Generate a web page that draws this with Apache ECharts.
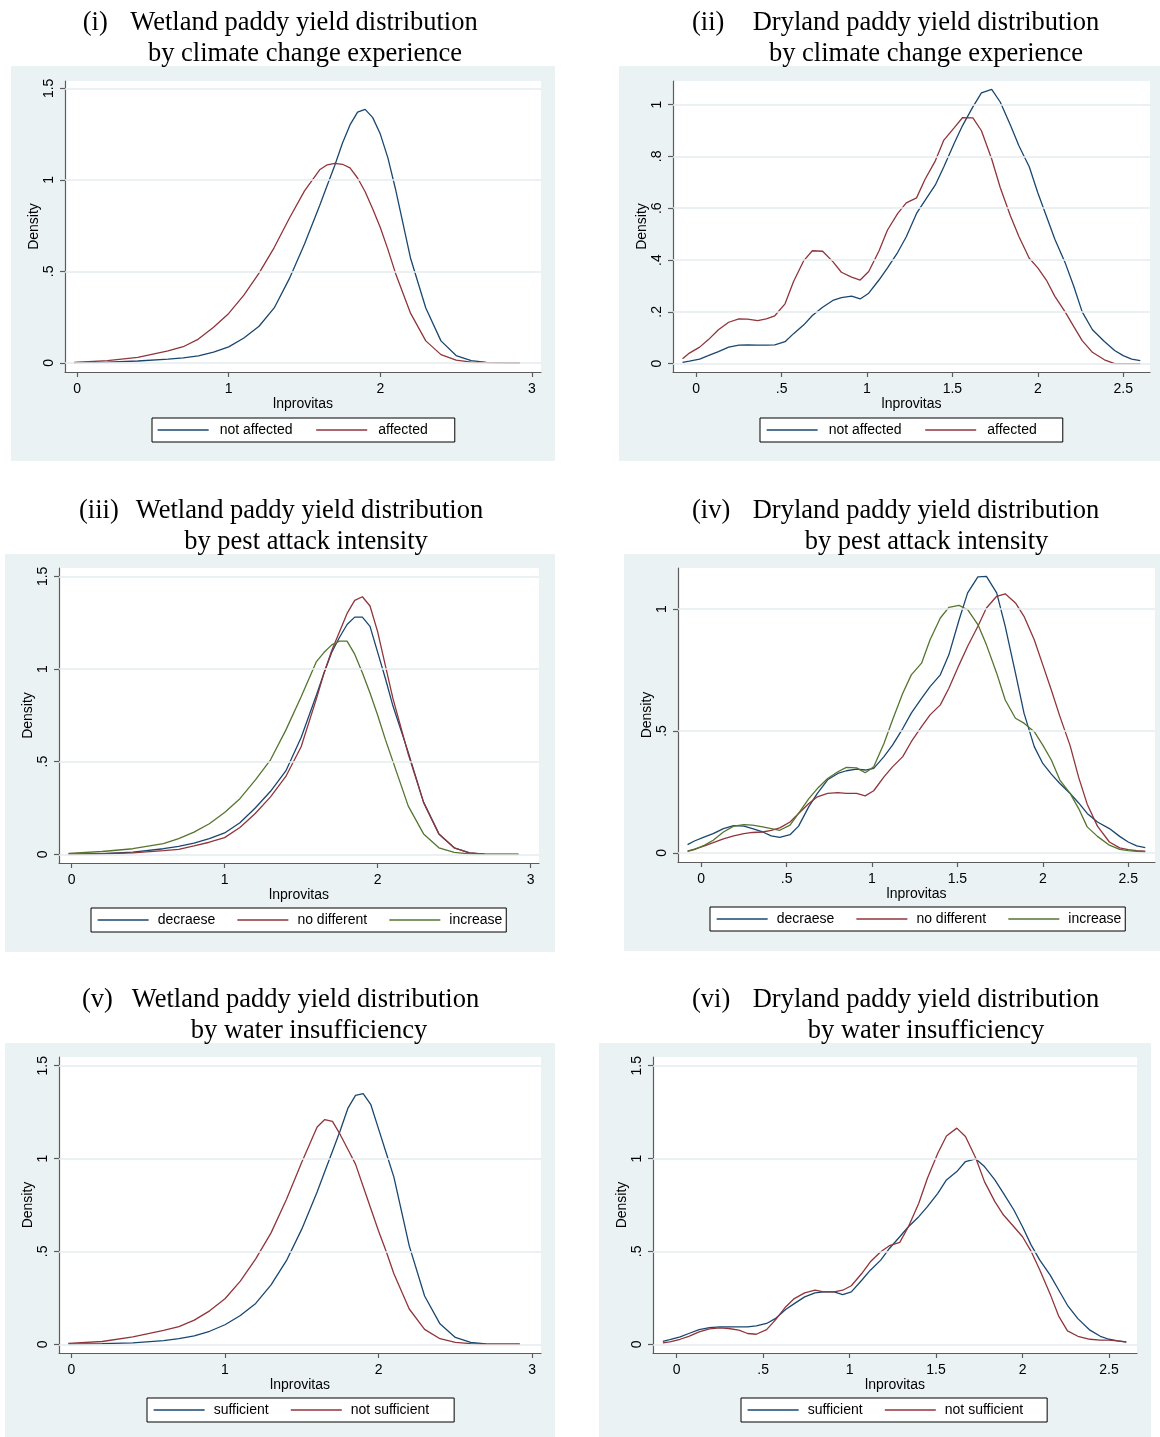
<!DOCTYPE html>
<html>
<head>
<meta charset="utf-8">
<script src="https://cdn.jsdelivr.net/npm/echarts@6/dist/echarts.min.js"></script>
<style>
html,body{margin:0;padding:0;background:#fff;}
#chart{width:1160px;height:1437px;}
</style>
</head>
<body>
<div id="chart"></div>
<script>
// ---------------- DATA ----------------
// Wetland panels: common x grid (lnprovitas)
const xWet = [-0.02, 0.2, 0.4, 0.6, 0.7, 0.8, 0.9, 1.0, 1.1, 1.2, 1.3, 1.4, 1.5, 1.6, 1.65, 1.7, 1.75, 1.8, 1.85, 1.9, 1.95, 2.0, 2.05, 2.1, 2.2, 2.3, 2.4, 2.5, 2.6, 2.7, 2.8, 2.92];
// Dryland panels: common x grid (lnprovitas)
const xDry = [-0.08, -0.04, 0.02, 0.07, 0.13, 0.19, 0.25, 0.30, 0.36, 0.41, 0.46, 0.52, 0.57, 0.63, 0.68, 0.74, 0.80, 0.85, 0.91, 0.96, 1.01, 1.07, 1.12, 1.18, 1.23, 1.29, 1.34, 1.40, 1.45, 1.51, 1.56, 1.62, 1.67, 1.73, 1.78, 1.84, 1.89, 1.95, 2.00, 2.05, 2.10, 2.16, 2.21, 2.26, 2.32, 2.39, 2.45, 2.50, 2.55, 2.60];

// (i) Wetland by climate change experience
const climWetNotAffected = [0.001, 0.004, 0.01, 0.02, 0.027, 0.038, 0.058, 0.087, 0.136, 0.2, 0.3, 0.46, 0.65, 0.86, 0.97, 1.08, 1.2, 1.3, 1.37, 1.385, 1.34, 1.25, 1.12, 0.95, 0.57, 0.3, 0.12, 0.04, 0.012, 0.003, 0.001, 0];
const climWetAffected    = [0.002, 0.012, 0.03, 0.065, 0.088, 0.13, 0.195, 0.27, 0.37, 0.49, 0.63, 0.79, 0.94, 1.055, 1.082, 1.09, 1.085, 1.065, 1.01, 0.935, 0.84, 0.74, 0.62, 0.49, 0.27, 0.12, 0.045, 0.015, 0.004, 0.001, 0, 0];
// (ii) Dryland by climate change experience
const climDryNotAffected = [0.005, 0.01, 0.018, 0.031, 0.047, 0.064, 0.072, 0.073, 0.072, 0.072, 0.073, 0.085, 0.116, 0.15, 0.186, 0.218, 0.244, 0.255, 0.261, 0.25, 0.272, 0.323, 0.37, 0.43, 0.49, 0.58, 0.63, 0.69, 0.76, 0.85, 0.92, 0.991, 1.045, 1.059, 1.01, 0.92, 0.84, 0.76, 0.66, 0.57, 0.48, 0.39, 0.3, 0.2, 0.131, 0.086, 0.051, 0.031, 0.018, 0.012];
const climDryAffected    = [0.019, 0.041, 0.064, 0.092, 0.131, 0.16, 0.173, 0.172, 0.166, 0.173, 0.185, 0.231, 0.317, 0.398, 0.436, 0.434, 0.394, 0.353, 0.334, 0.323, 0.356, 0.435, 0.516, 0.58, 0.621, 0.64, 0.712, 0.783, 0.863, 0.91, 0.95, 0.949, 0.899, 0.79, 0.68, 0.57, 0.49, 0.407, 0.37, 0.323, 0.26, 0.2, 0.144, 0.089, 0.044, 0.015, 0, 0, 0, 0];
// (iii) Wetland by pest attack intensity
const pestWetDecrease = [0.001, 0.004, 0.012, 0.03, 0.043, 0.06, 0.085, 0.115, 0.17, 0.25, 0.34, 0.45, 0.63, 0.86, 0.98, 1.09, 1.17, 1.24, 1.28, 1.28, 1.23, 1.09, 0.95, 0.8, 0.55, 0.28, 0.11, 0.035, 0.008, 0.001, 0, 0];
const pestWetNoDiff   = [0, 0.003, 0.008, 0.02, 0.027, 0.045, 0.065, 0.09, 0.145, 0.22, 0.31, 0.42, 0.58, 0.84, 0.98, 1.1, 1.2, 1.3, 1.37, 1.39, 1.34, 1.2, 1.02, 0.84, 0.54, 0.28, 0.11, 0.035, 0.008, 0.001, 0, 0];
const pestWetIncrease = [0.005, 0.015, 0.03, 0.058, 0.085, 0.12, 0.165, 0.225, 0.3, 0.4, 0.51, 0.67, 0.85, 1.04, 1.09, 1.13, 1.15, 1.15, 1.08, 0.98, 0.87, 0.75, 0.62, 0.5, 0.26, 0.11, 0.035, 0.01, 0.002, 0, 0, 0];
// (iv) Dryland by pest attack intensity
const pestDryDecrease = [0.034, 0.049, 0.066, 0.079, 0.1, 0.112, 0.11, 0.1, 0.086, 0.07, 0.064, 0.075, 0.11, 0.19, 0.244, 0.3, 0.326, 0.337, 0.344, 0.34, 0.347, 0.395, 0.442, 0.51, 0.573, 0.634, 0.682, 0.73, 0.812, 0.956, 1.066, 1.132, 1.134, 1.066, 0.929, 0.737, 0.573, 0.436, 0.367, 0.323, 0.285, 0.244, 0.205, 0.162, 0.127, 0.1, 0.068, 0.045, 0.029, 0.022];
const pestDryNoDiff   = [0.008, 0.016, 0.029, 0.042, 0.058, 0.07, 0.079, 0.084, 0.086, 0.093, 0.103, 0.127, 0.162, 0.203, 0.23, 0.244, 0.247, 0.244, 0.244, 0.234, 0.255, 0.312, 0.353, 0.395, 0.456, 0.518, 0.566, 0.607, 0.675, 0.771, 0.847, 0.929, 1.004, 1.052, 1.062, 1.025, 0.97, 0.874, 0.771, 0.668, 0.56, 0.44, 0.31, 0.2, 0.11, 0.045, 0.021, 0.014, 0.01, 0.007];
const pestDryIncrease = [0.007, 0.014, 0.032, 0.052, 0.086, 0.11, 0.116, 0.114, 0.107, 0.1, 0.093, 0.114, 0.162, 0.223, 0.264, 0.305, 0.333, 0.351, 0.349, 0.329, 0.353, 0.449, 0.545, 0.655, 0.73, 0.778, 0.874, 0.963, 1.007, 1.015, 0.997, 0.936, 0.853, 0.737, 0.627, 0.552, 0.532, 0.497, 0.442, 0.381, 0.299, 0.244, 0.182, 0.107, 0.068, 0.032, 0.015, 0.01, 0.007, 0.004];
// (v) Wetland by water insufficiency
const waterWetSufficient    = [0.001, 0.003, 0.008, 0.02, 0.03, 0.045, 0.07, 0.105, 0.155, 0.22, 0.32, 0.45, 0.62, 0.82, 0.93, 1.04, 1.15, 1.27, 1.34, 1.35, 1.29, 1.16, 1.03, 0.9, 0.53, 0.26, 0.11, 0.037, 0.01, 0.002, 0, 0];
const waterWetNotSufficient = [0.005, 0.015, 0.04, 0.075, 0.095, 0.13, 0.18, 0.245, 0.34, 0.46, 0.6, 0.78, 0.98, 1.17, 1.21, 1.2, 1.13, 1.05, 0.97, 0.85, 0.73, 0.61, 0.5, 0.38, 0.19, 0.08, 0.03, 0.01, 0.003, 0, 0, 0];
// (vi) Dryland by water insufficiency
const waterDrySufficient    = [0.016, 0.025, 0.04, 0.058, 0.079, 0.09, 0.094, 0.094, 0.094, 0.094, 0.099, 0.112, 0.138, 0.187, 0.219, 0.255, 0.277, 0.282, 0.282, 0.268, 0.282, 0.345, 0.399, 0.453, 0.516, 0.579, 0.633, 0.687, 0.741, 0.813, 0.885, 0.93, 0.984, 0.998, 0.957, 0.885, 0.813, 0.723, 0.633, 0.534, 0.453, 0.372, 0.291, 0.21, 0.138, 0.076, 0.043, 0.027, 0.018, 0.013];
const waterDryNotSufficient = [0.007, 0.013, 0.027, 0.043, 0.067, 0.083, 0.088, 0.085, 0.076, 0.058, 0.054, 0.079, 0.13, 0.201, 0.246, 0.277, 0.291, 0.282, 0.282, 0.291, 0.315, 0.381, 0.444, 0.498, 0.531, 0.549, 0.633, 0.759, 0.894, 1.029, 1.122, 1.164, 1.119, 1.002, 0.876, 0.768, 0.696, 0.633, 0.579, 0.5, 0.4, 0.27, 0.15, 0.072, 0.043, 0.027, 0.022, 0.022, 0.018, 0.011];

// Tick values
const wetXTicks = [0, 1, 2, 3];
const dryXTicks = [0, 0.5, 1, 1.5, 2, 2.5];
const wetYTicks = [0, 0.5, 1, 1.5];
const climDryYTicks = [0, 0.2, 0.4, 0.6, 0.8, 1];
const pestDryYTicks = [0, 0.5, 1];
const waterDryYTicks = [0, 0.5, 1, 1.5];

// Text
const romanLabels = ['(i)', '(ii)', '(iii)', '(iv)', '(v)', '(vi)'];
const titleLine1 = ['Wetland paddy yield distribution', 'Dryland paddy yield distribution', 'Wetland paddy yield distribution', 'Dryland paddy yield distribution', 'Wetland paddy yield distribution', 'Dryland paddy yield distribution'];
const titleLine2 = ['by climate change experience', 'by climate change experience', 'by pest attack intensity', 'by pest attack intensity', 'by water insufficiency', 'by water insufficiency'];
const climNames = ['not affected', 'affected'];
const pestNames = ['decraese', 'no different', 'increase'];
const waterNames = ['sufficient', 'not sufficient'];
const xTitle = 'lnprovitas';
const yTitle = 'Density';

// ---------------- STYLE / LAYOUT ----------------
const NAVY = '#1a476f', MAROON = '#90353b', GREEN = '#55752f';
const BG = '#eaf2f3', GRIDLINE = '#e4ecee', AX = '#5c5c5c';
const SANS = '"Liberation Sans", Arial, Helvetica, sans-serif';
const SERIF = '"Liberation Serif", "Times New Roman", serif';

const panels = [
  { bg: [11, 66, 544, 395], grid: [65, 81, 476, 291], xr: [-0.08, 3.06], yr: [-0.05, 1.54],
    xt: wetXTicks, yt: wetYTicks, xs: xWet, names: climNames, vals: [climWetNotAffected, climWetAffected], cols: [NAVY, MAROON],
    roman: 82.7, c1: 304, c2: 305, ty: 23.5,
    leg: { left: 152, top: 418, pad: [5, 27, 5, 5], gap: 23, tpad: 6 } },
  { bg: [619, 66, 541, 395], grid: [673, 81, 477, 291], xr: [-0.136, 2.657], yr: [-0.032, 1.091],
    xt: dryXTicks, yt: climDryYTicks, xs: xDry, names: climNames, vals: [climDryNotAffected, climDryAffected], cols: [NAVY, MAROON],
    roman: 692, c1: 926, c2: 926, ty: 23.5,
    leg: { left: 760, top: 418, pad: [5, 26, 5, 6], gap: 23, tpad: 6 } },
  { bg: [5, 554, 550, 398], grid: [59, 568, 480, 295], xr: [-0.082, 3.054], yr: [-0.047, 1.545],
    xt: wetXTicks, yt: wetYTicks, xs: xWet, names: pestNames, vals: [pestWetDecrease, pestWetNoDiff, pestWetIncrease], cols: [NAVY, MAROON, GREEN],
    roman: 79, c1: 309.5, c2: 306, ty: 511.5,
    leg: { left: 91, top: 908, pad: [5, 4, 5, 6], gap: 21.5, tpad: 4 } },
  { bg: [624, 554, 536, 397], grid: [678, 568, 477, 294], xr: [-0.136, 2.657], yr: [-0.037, 1.168],
    xt: dryXTicks, yt: pestDryYTicks, xs: xDry, names: pestNames, vals: [pestDryDecrease, pestDryNoDiff, pestDryIncrease], cols: [NAVY, MAROON, GREEN],
    roman: 692, c1: 926, c2: 926.5, ty: 511.5,
    leg: { left: 710, top: 907, pad: [5, 4, 5, 6], gap: 21.5, tpad: 4 } },
  { bg: [5, 1043, 550, 394], grid: [59, 1057, 482, 296], xr: [-0.081, 3.058], yr: [-0.047, 1.547],
    xt: wetXTicks, yt: wetYTicks, xs: xWet, names: waterNames, vals: [waterWetSufficient, waterWetNotSufficient], cols: [NAVY, MAROON],
    roman: 82, c1: 305.5, c2: 309, ty: 1000.5,
    leg: { left: 147, top: 1398, pad: [5, 25, 5, 6], gap: 21.5, tpad: 4 } },
  { bg: [599, 1043, 552, 394], grid: [653, 1057, 484, 296], xr: [-0.137, 2.662], yr: [-0.047, 1.547],
    xt: dryXTicks, yt: waterDryYTicks, xs: xDry, names: waterNames, vals: [waterDrySufficient, waterDryNotSufficient], cols: [NAVY, MAROON],
    roman: 692, c1: 926, c2: 926, ty: 1000.5,
    leg: { left: 741, top: 1398, pad: [5, 24, 5, 6], gap: 21.5, tpad: 4 } }
];

function stataFmt(v) {
  const s = String(+(+v).toFixed(3));
  return s.replace(/^0\./, '.').replace(/^-0\./, '-.');
}

const graphic = [];
const grid = [], xAxis = [], yAxis = [], legend = [], series = [];

panels.forEach((p, i) => {
  graphic.push({ type: 'rect', z: -100, silent: true,
    shape: { x: p.bg[0], y: p.bg[1], width: p.bg[2], height: p.bg[3] }, style: { fill: BG } });
  graphic.push({ type: 'text', z: 10, silent: true,
    style: { text: romanLabels[i], x: p.roman, y: p.ty, font: '26.5px ' + SERIF, fill: '#000', align: 'left', verticalAlign: 'middle', textAlign: 'left', textVerticalAlign: 'middle' } });
  graphic.push({ type: 'text', z: 10, silent: true,
    style: { text: titleLine1[i], x: p.c1, y: p.ty, font: '26.5px ' + SERIF, fill: '#000', align: 'center', verticalAlign: 'middle', textAlign: 'center', textVerticalAlign: 'middle' } });
  graphic.push({ type: 'text', z: 10, silent: true,
    style: { text: titleLine2[i], x: p.c2, y: p.ty + 31, font: '26.5px ' + SERIF, fill: '#000', align: 'center', verticalAlign: 'middle', textAlign: 'center', textVerticalAlign: 'middle' } });

  grid.push({ left: p.grid[0], top: p.grid[1], width: p.grid[2], height: p.grid[3],
    show: true, backgroundColor: '#ffffff', borderWidth: 0, containLabel: false });

  xAxis.push({ type: 'value', gridIndex: i, min: p.xr[0], max: p.xr[1],
    axisLine: { show: true, onZero: false, lineStyle: { color: AX, width: 1.2 } },
    axisTick: { show: true, length: 5, customValues: p.xt, lineStyle: { color: AX, width: 1.2 } },
    axisLabel: { show: true, customValues: p.xt, formatter: stataFmt, color: '#000', fontSize: 14, fontFamily: SANS, margin: 10 },
    splitLine: { show: false },
    name: xTitle, nameLocation: 'middle', nameGap: 23,
    nameTextStyle: { color: '#000', fontSize: 14, fontFamily: SANS } });

  yAxis.push({ type: 'value', gridIndex: i, min: p.yr[0], max: p.yr[1],
    axisLine: { show: true, onZero: false, lineStyle: { color: AX, width: 1.2 } },
    axisTick: { show: true, length: 5, customValues: p.yt, lineStyle: { color: AX, width: 1.2 } },
    axisLabel: { show: true, customValues: p.yt, formatter: stataFmt, rotate: 90, color: '#000', fontSize: 14, fontFamily: SANS, margin: 9 },
    splitLine: { show: false },
    name: yTitle, nameLocation: 'middle', nameGap: 24, nameRotate: 90,
    nameTextStyle: { color: '#000', fontSize: 14, fontFamily: SANS } });

  // horizontal grid lines at the labelled y ticks
  series.push({ type: 'line', name: 'gridlines-' + i, xAxisIndex: i, yAxisIndex: i, data: [], z: 1,
    silent: true, symbol: 'none',
    markLine: { silent: true, symbol: ['none', 'none'], label: { show: false },
      lineStyle: { color: GRIDLINE, width: 1.5, type: 'solid' }, emphasis: { disabled: true },
      animation: false, data: p.yt.map(v => ({ yAxis: v })) } });

  p.names.forEach((nm, k) => {
    series.push({ type: 'line', name: nm, xAxisIndex: i, yAxisIndex: i, z: 3,
      symbol: 'none', showSymbol: false, smooth: false, clip: true,
      color: p.cols[k], lineStyle: { color: p.cols[k], width: 1.3 },
      emphasis: { disabled: true },
      data: p.xs.map((x, j) => [x, p.vals[k][j]]) });
  });

  legend.push({ left: p.leg.left, top: p.leg.top, orient: 'horizontal', data: p.names,
    itemWidth: 51, itemHeight: 14, itemGap: p.leg.gap, padding: p.leg.pad,
    borderColor: '#000', borderWidth: 1, backgroundColor: '#ffffff', borderRadius: 0,
    selectedMode: false,
    itemStyle: { opacity: 0, borderWidth: 0 },
    lineStyle: { width: 1.3 },
    textStyle: { color: '#000', fontSize: 14, fontFamily: SANS, padding: [0, 0, 0, p.leg.tpad] } });
});

const chart = echarts.init(document.getElementById('chart'), null, { renderer: 'canvas' });
chart.setOption({
  animation: false,
  backgroundColor: '#ffffff',
  graphic: graphic,
  grid: grid,
  xAxis: xAxis,
  yAxis: yAxis,
  legend: legend,
  tooltip: { show: false },
  series: series
});
</script>
</body>
</html>
